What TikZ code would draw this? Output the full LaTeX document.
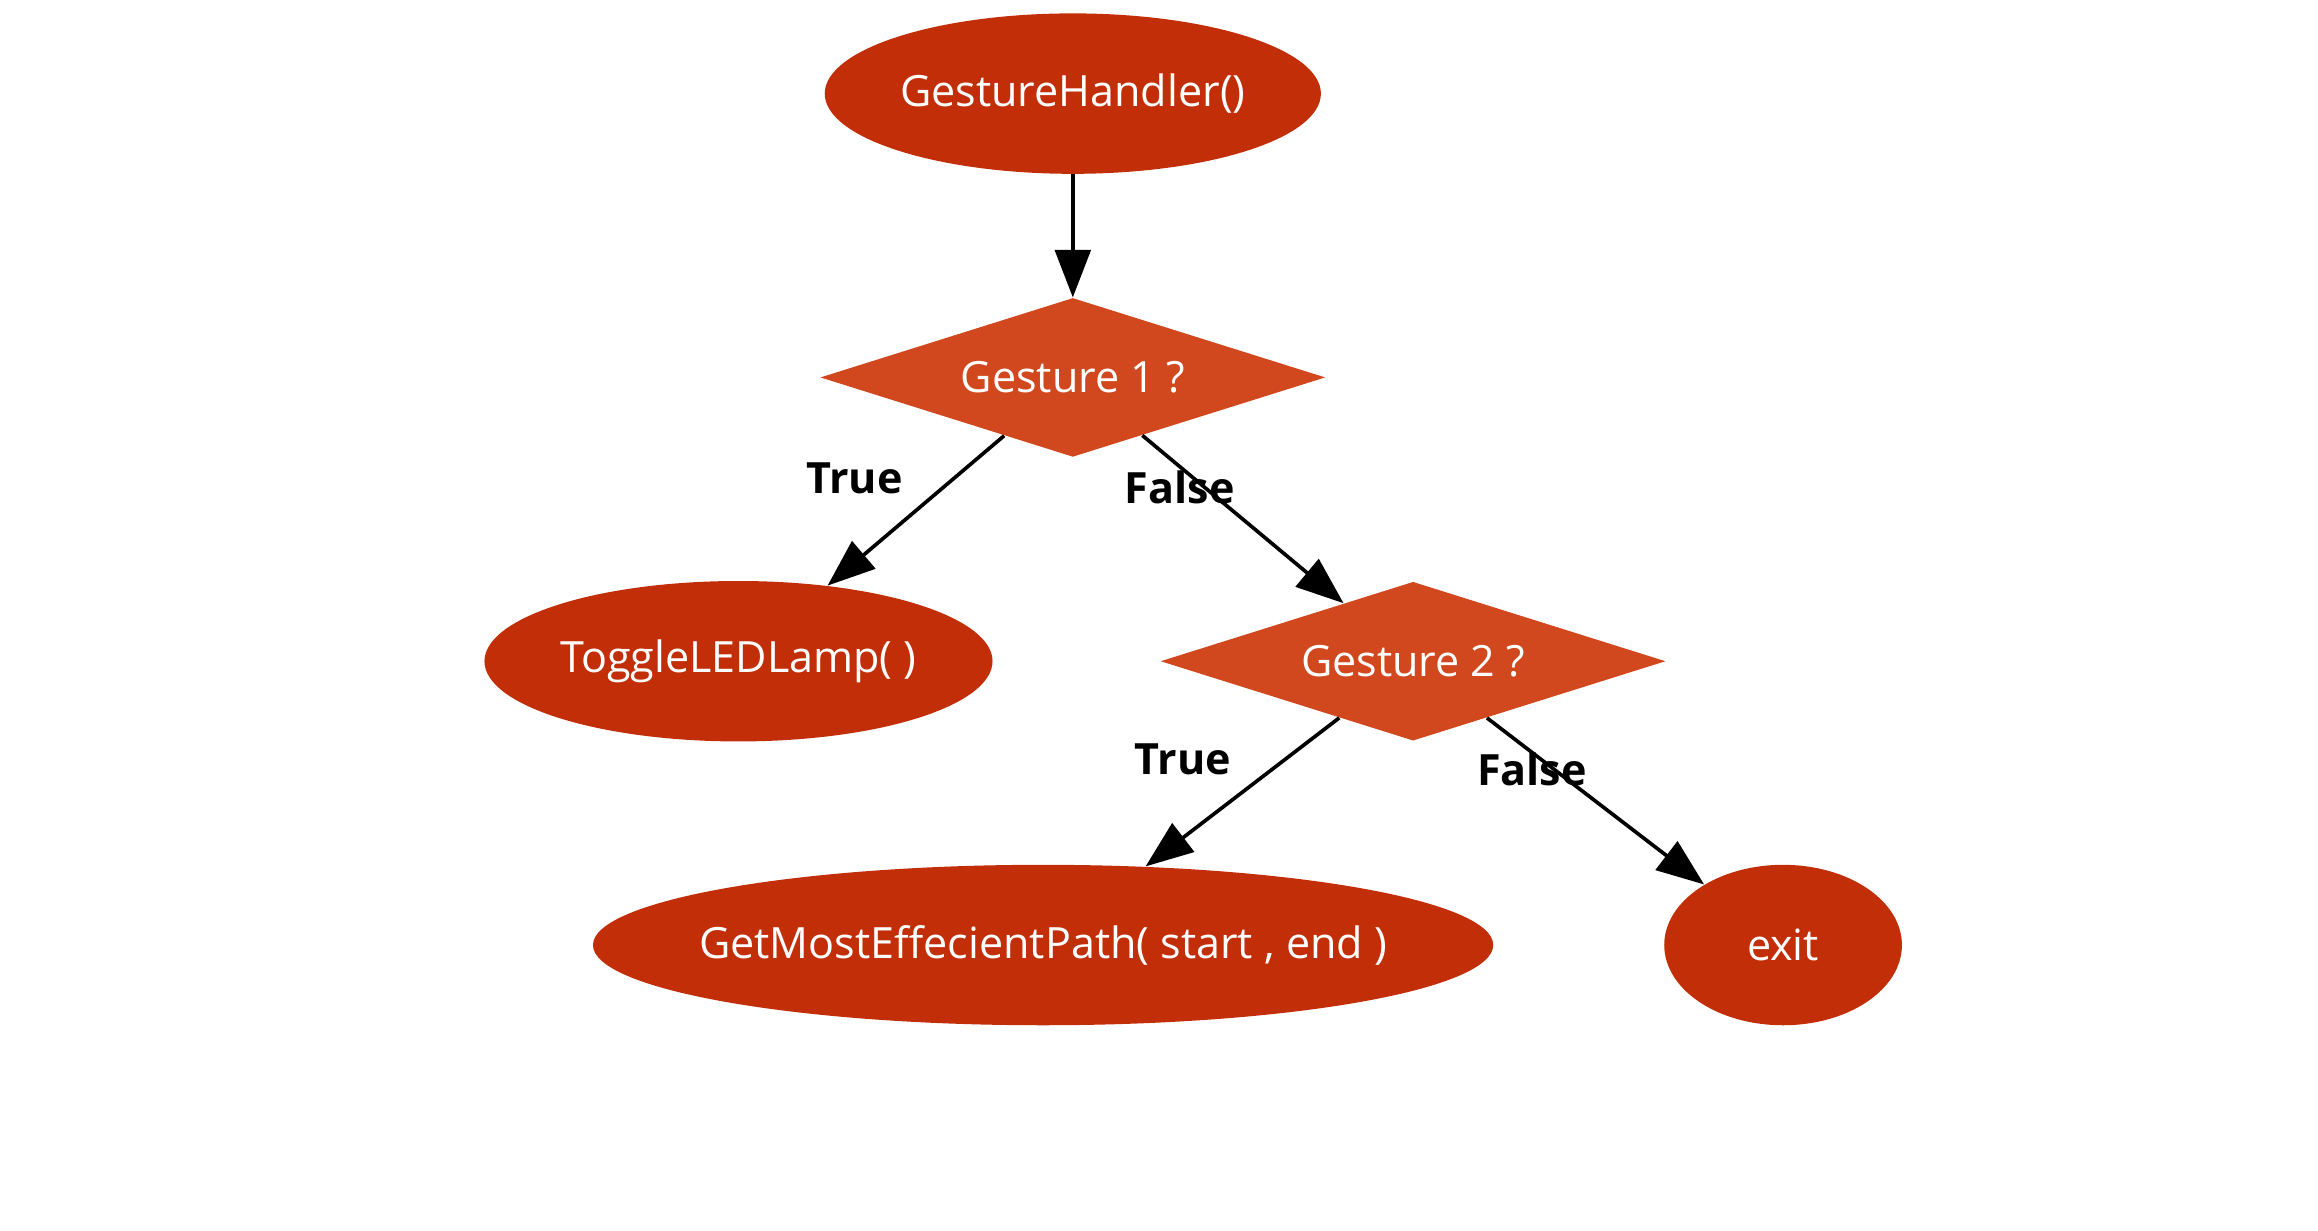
\documentclass[tikz,border=0pt]{standalone}
\usepackage{fontspec}
\setmainfont{Open Sans}
\usetikzlibrary{shapes.geometric, arrows.meta}
\definecolor{callred}{RGB}{194,46,8}
\definecolor{askred}{RGB}{209,71,30}

\begin{document}
\begin{tikzpicture}[x=0.02cm, y=-0.02cm,
        call/.style={ellipse, fill=callred, text=white, inner sep=0pt, minimum height=2.16cm,
            font=\fontsize{16.5pt}{20pt}\selectfont,
            execute at begin node=\hbox to 0pt\bgroup\hss, execute at end node=\hss\egroup},
        ask/.style={diamond, shape aspect=3.2, fill=askred, text=white, inner sep=0pt,
            minimum width=6.8cm, minimum height=2.14cm, font=\fontsize{16.5pt}{20pt}\selectfont},
        answer/.style={font=\fontsize{16.5pt}{20pt}\selectfont\bfseries},
        flow/.style={-{Triangle[length=0.64cm, width=0.48cm]}, line width=1.4pt}]
    \useasboundingbox (0,0) rectangle (1560,828);
    \node[call, minimum width=6.68cm] (handler) at (722,63) {GestureHandler()};
    \node[ask] (gesture1) at (722,254) {Gesture 1 ?};
    \node[call, minimum width=6.84cm] (toggle) at (497,445) {ToggleLEDLamp( )};
    \node[ask] (gesture2) at (951,445) {Gesture 2 ?};
    \node[call, minimum width=12.12cm] (path) at (702,636) {GetMostEffecientPath( start , end )};
    \node[call, minimum width=3.2cm] (exit) at (1200,636) {exit};
    \draw[flow] (handler) -- (gesture1);
    \draw[flow] (gesture1) -- (toggle);
    \draw[flow] (gesture1) -- (gesture2);
    \draw[flow] (gesture2) -- (path);
    \draw[flow] (gesture2) -- (exit);
    \node[answer] (true1) at (575,322) {True};
    \node[answer] (false1) at (794,328) {False};
    \node[answer] (true2) at (796,511) {True};
    \node[answer] (false2) at (1031,518) {False};
\end{tikzpicture}
\end{document}
